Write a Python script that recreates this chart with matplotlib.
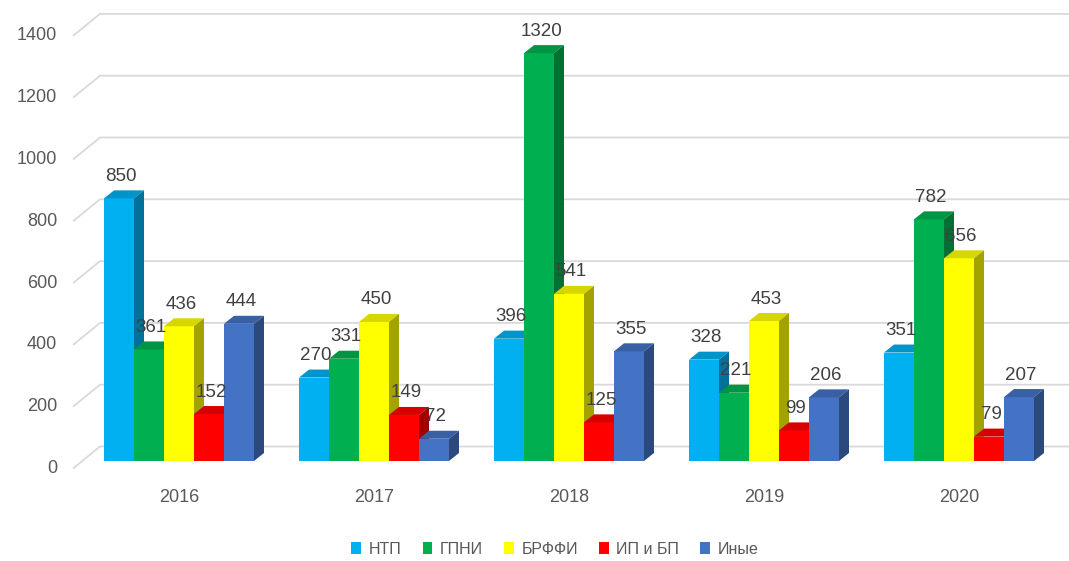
import numpy as np
import matplotlib.pyplot as plt
from matplotlib.patches import Polygon, Patch
from matplotlib.colors import to_rgb

plt.rcParams['font.family'] = ['Liberation Sans', 'DejaVu Sans']

years = ['2016', '2017', '2018', '2019', '2020']
series = ['НТП', 'ГПНИ', 'БРФФИ', 'ИП и БП', 'Иные']
ntp = [850, 270, 396, 328, 351]
gpni = [361, 331, 1320, 221, 782]
brffi = [436, 450, 541, 453, 656]
ip_bp = [152, 149, 125, 99, 79]
other = [444, 72, 355, 206, 207]
colors = ['#00B0F0', '#00B050', '#FFFF00', '#FF0000', '#4472C4']
yticks = [0, 200, 400, 600, 800, 1000, 1200, 1400]

data = [ntp, gpni, brffi, ip_bp, other]

# pixel geometry of the reference (group spacing, value scale)
px_x = 195.0      # pixels per category unit
px_v = 0.309      # pixels per value unit
x0_px = 179.0     # pixel x of first group centre
base_px = 461.0   # pixel y of bar base

W, H = 1069, 561
fig = plt.figure(figsize=(W / 100, H / 100), dpi=100)
ax = fig.add_axes([0, 0, 1, 1])
ax.set_xlim(-x0_px / px_x, (W - x0_px) / px_x)
ax.set_ylim((base_px - H) / px_v, base_px / px_v)
ax.axis('off')

def ux(px):
    return (px - x0_px) / px_x

def dv(px):
    return px / px_v

def shade(c, f):
    r, g, b = to_rgb(c)
    return (r * f, g * f, b * f)

# back wall gridlines with slanted floor edge
front_off = dv(7.5)
back_off = dv(14.5)
for t in yticks:
    ax.plot([ux(73), ux(100), ux(W)], [t - front_off, t + back_off, t + back_off],
            color='#d9d9d9', lw=1.3, zorder=1, solid_capstyle='butt')
    ax.text(ux(57), t - front_off, str(t), ha='right', va='center',
            fontsize=13, color='#595959')

bw = 30 / px_x
ddx = 10 / px_x
ddy = dv(8)
x = np.arange(len(years))

for i, (vals, col) in enumerate(zip(data, colors)):
    xs = x + (i - 2) * bw
    ax.bar(xs, vals, bw, color=col, linewidth=0, zorder=2 + i)
    for xc, v in zip(xs, vals):
        l, r = xc - bw / 2, xc + bw / 2
        top = Polygon([(l, v), (r, v), (r + ddx, v + ddy), (l + ddx, v + ddy)],
                      closed=True, facecolor=shade(col, 0.84), lw=0, zorder=2.5 + i)
        side = Polygon([(r, 0), (r + ddx, ddy), (r + ddx, v + ddy), (r, v)],
                       closed=True, facecolor=shade(col, 0.64), lw=0, zorder=2.5 + i)
        ax.add_patch(top)
        ax.add_patch(side)
        ax.annotate(str(v), (xc, v), xytext=(2, 22), textcoords='offset pixels',
                    ha='center', va='center', fontsize=13.5, color='#404040', zorder=30)

for xi, yr in zip(x, years):
    ax.text(xi, dv(base_px - 497), yr, ha='center', va='center',
            fontsize=13, color='#595959')

handles = [Patch(facecolor=c, edgecolor='none') for c in colors]
fig.legend(handles, series, loc='center', bbox_to_anchor=(555 / W, 1 - 549 / H),
           ncol=5, frameon=False, fontsize=11.5, handlelength=0.6, handleheight=0.7,
           handletextpad=0.5, columnspacing=1.3, labelcolor='#595959')

fig.savefig('out.png', dpi=100)
